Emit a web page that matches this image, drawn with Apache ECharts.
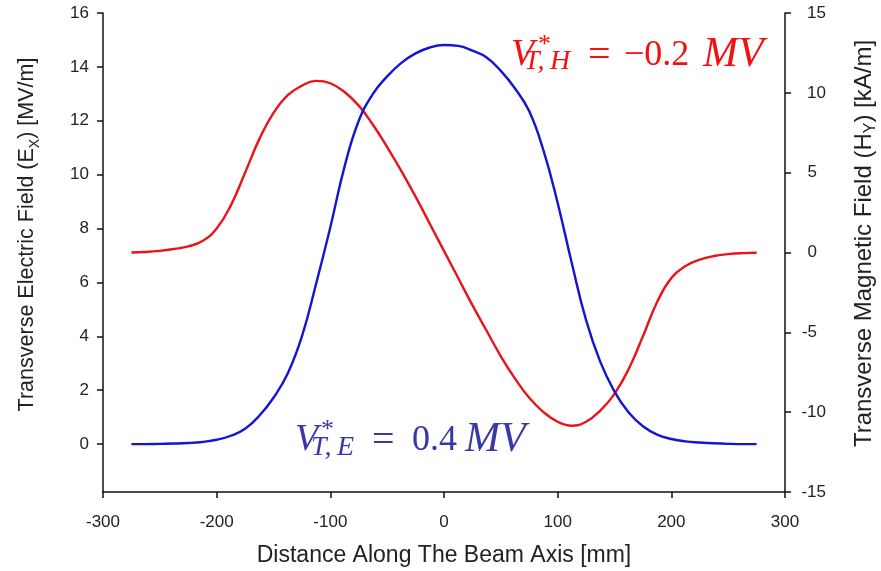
<!DOCTYPE html>
<html>
<head>
<meta charset="utf-8">
<script src="https://cdn.jsdelivr.net/npm/echarts@6/dist/echarts.min.js"></script>
<style>html,body{margin:0;padding:0;background:#fff}#c{width:881px;height:571px}</style>
</head>
<body>
<div id="c"></div>
<script>
// ---- data ----
const distance = [-275,-262.5,-250,-237.5,-225,-212.5,-200,-187.5,-175,-162.5,-150,-137.5,-125,-112.5,-100,-87.5,-75,-62.5,-50,-37.5,-25,-12.5,0,12.5,25,37.5,50,62.5,75,87.5,100,112.5,125,137.5,150,162.5,175,187.5,200,212.5,225,237.5,250,262.5,275];
const eField = [0.00,0.00,0.01,0.02,0.04,0.08,0.16,0.31,0.57,1.05,1.72,2.62,4.00,5.95,8.05,10.3,12.0,13.0,13.65,14.15,14.5,14.72,14.81,14.78,14.6,14.35,13.85,13.2,12.35,10.9,8.95,6.7,4.6,3.05,1.95,1.17,0.66,0.35,0.19,0.10,0.06,0.03,0.01,0.00,0.00];
const hField = [0.0,0.03,0.10,0.22,0.38,0.72,1.5,2.95,5.0,7.1,8.75,9.85,10.45,10.75,10.6,10.05,9.2,8.0,6.6,5.1,3.5,1.8,0.1,-1.6,-3.3,-4.9,-6.5,-7.9,-9.1,-10.0,-10.6,-10.85,-10.6,-9.9,-8.85,-7.3,-5.25,-3.1,-1.6,-0.85,-0.45,-0.22,-0.10,-0.04,-0.02];
const leftTicks = [0,2,4,6,8,10,12,14,16];
const rightTicks = [-15,-10,-5,0,5,10,15];
const xTicks = [-300,-200,-100,0,100,200,300];

const SANS = '"Liberation Sans", Arial, sans-serif';
const SERIF = '"Liberation Serif", serif';
const RED = '#e8141a';
const BLUE = '#1414d2';
const ANN_RED = '#f51010';
const ANN_BLUE = '#3838a8';

const chart = echarts.init(document.getElementById('c'), null, {renderer: 'canvas'});

function t(x, y, s, size, italic, color) {
  return {type: 'text', x: x, y: y, z: 100,
    style: {text: s, font: (italic ? 'italic ' : '') + size + 'px ' + SERIF, fill: color, align: 'left', verticalAlign: 'middle'}};
}

const lineSt = {color: '#111', width: 1.5};
const nameStyle = function (size, padLeft) {
  return {fontFamily: SANS, fontSize: size, color: '#222', lineHeight: 30, padding: [0, 0, 0, padLeft],
    rich: {s: {fontFamily: SANS, fontSize: Math.round(size * 0.66), color: '#222', lineHeight: 12, verticalAlign: 'bottom'}}};
};

chart.setOption({
  animation: false,
  backgroundColor: '#fff',
  grid: {left: 103, right: 96, top: 13, bottom: 79, containLabel: false, outerBoundsMode: 'none'},
  xAxis: {
    type: 'value', min: -300, max: 300, interval: 100,
    axisLine: {show: true, onZero: false, lineStyle: lineSt},
    axisTick: {show: true, length: 6, lineStyle: lineSt},
    splitLine: {show: false},
    axisLabel: {fontFamily: SANS, fontSize: 17, color: '#222', margin: 22, customValues: xTicks},
    name: 'Distance Along The Beam Axis [mm]',
    nameLocation: 'middle', nameGap: 52,
    nameTextStyle: {fontFamily: SANS, fontSize: 23, color: '#222'}
  },
  yAxis: [
    {
      type: 'value', min: -16/9, max: 16, position: 'left',
      axisLine: {show: true, onZero: false, lineStyle: lineSt},
      axisTick: {show: true, length: 6, customValues: leftTicks, lineStyle: lineSt},
      axisLabel: {fontFamily: SANS, fontSize: 17, color: '#222', margin: 14, customValues: leftTicks},
      splitLine: {show: false},
      name: 'Transverse Electric Field (E{s|X}) [MV/m]',
      nameLocation: 'middle', nameRotate: 90, nameGap: 61,
      nameTextStyle: nameStyle(21.5, 36)
    },
    {
      type: 'value', min: -15, max: 15, interval: 5, position: 'right',
      axisLine: {show: true, onZero: false, lineStyle: lineSt},
      axisTick: {show: true, length: 6, lineStyle: lineSt},
      axisLabel: {fontFamily: SANS, fontSize: 17, color: '#222', margin: 41, align: 'right',
        formatter: function (v) { return Math.abs(v) < 10 ? v + '{p|}' : String(v); },
        rich: {p: {width: 9}}},
      splitLine: {show: false},
      name: 'Transverse Magnetic Field (H{s|Y}) [kA/m]',
      nameLocation: 'middle', nameRotate: 90, nameGap: 64,
      nameTextStyle: nameStyle(24, 18)
    }
  ],
  series: [
    {type: 'line', name: 'E', yAxisIndex: 0, data: distance.map((d, i) => [d, eField[i]]),
      showSymbol: false, smooth: 0.45, lineStyle: {color: BLUE, width: 2.4}, z: 3},
    {type: 'line', name: 'H', yAxisIndex: 1, data: distance.map((d, i) => [d, hField[i]]),
      showSymbol: false, smooth: 0.45, lineStyle: {color: RED, width: 2.4}, z: 2}
  ],
  graphic: [
    // red annotation: V*_{T,H} = −0.2 MV
    t(511, 55, 'V', 38, true, ANN_RED),
    t(538, 45, '*', 26, false, ANN_RED),
    t(524, 62, 'T,\u2009H', 28, true, ANN_RED),
    t(588, 56, '=', 40, false, ANN_RED),
    t(624, 56, '\u22120.2', 36, false, ANN_RED),
    t(703, 55, 'MV', 42, true, ANN_RED),
    // blue annotation: V*_{T,E} = 0.4 MV
    t(295, 440, 'V', 38, true, ANN_BLUE),
    t(321, 430, '*', 26, false, ANN_BLUE),
    t(311, 448, 'T,\u2009E', 28, true, ANN_BLUE),
    t(372, 441, '=', 40, false, ANN_BLUE),
    t(412, 441, '0.4', 36, false, ANN_BLUE),
    t(465, 440, 'MV', 42, true, ANN_BLUE)
  ]
});
</script>
</body>
</html>
